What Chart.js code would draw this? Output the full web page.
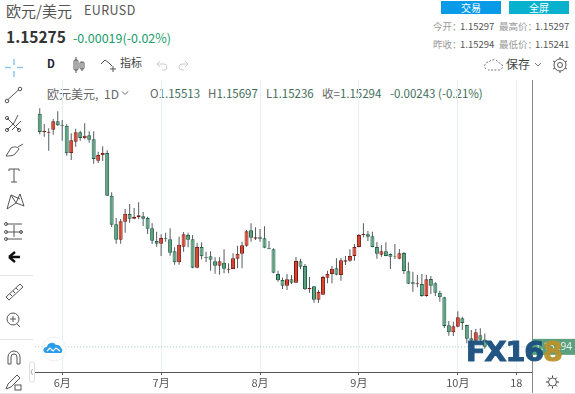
<!DOCTYPE html>
<html>
<head>
<meta charset="utf-8">
<script src="https://cdn.jsdelivr.net/npm/chart.js@4"></script>
<style>
body { margin: 0; background: #fff; width: 575px; height: 394px; overflow: hidden; position: relative;
       font-family: "Noto Sans CJK SC", "Noto Sans", sans-serif; color: #444; }
.t { position: absolute; white-space: nowrap; line-height: 1; }
.btn { position: absolute; top: 1px; width: 60px; height: 13px; color: #fff; font-size: 10px; line-height: 13px; text-align: center; }
#chartWrap { position: absolute; left: 33px; top: 80px; }
svg.ic { position: absolute; overflow: visible; }
.sep { position: absolute; left: 0; width: 33px; height: 1px; background: #e3e3e3; }
#logo { position: absolute; left: 466px; top: 339px; font: 900 26px "DejaVu Sans", sans-serif; letter-spacing: -1px;
        color: #1b4f7e; -webkit-text-stroke: 1px #1b4f7e; transform: scaleX(1.1); transform-origin: left top; line-height: 1; opacity: .96; }
#logo span { color: #b8922c; -webkit-text-stroke: 1px #b8922c; }
.k { color: #999; font-size: 9.5px; }
.v { color: #555; font-size: 9.5px; }
</style>
</head>
<body>
<div class="t" style="left:6px;top:3px;font-size:15px;color:#555">欧元/美元</div>
<div class="t" style="left:84px;top:4px;font-size:12.5px;color:#555;letter-spacing:.4px">EURUSD</div>
<div class="t" style="left:6px;top:29px;font-size:15.5px;font-weight:700;color:#333">1.15275</div>
<div class="t" style="left:73px;top:32px;font-size:12.5px;color:#1a9c6c">-0.00019(-0.02%)</div>

<div class="btn" style="left:441px;background:#0a9be8">交易</div>
<div class="btn" style="left:509px;background:#08b2cf">全屏</div>
<div class="t k" style="left:433px;top:22px">今开：</div>
<div class="t v" style="left:460px;top:22px">1.15297</div>
<div class="t k" style="left:499px;top:22px">最高价：</div>
<div class="t v" style="left:535px;top:22px">1.15297</div>
<div class="t k" style="left:433px;top:40px">昨收：</div>
<div class="t v" style="left:460px;top:40px">1.15294</div>
<div class="t k" style="left:499px;top:40px">最低价：</div>
<div class="t v" style="left:535px;top:40px">1.15241</div>

<div class="t" style="left:47px;top:58px;font-size:11px;font-weight:700;color:#223">D</div>
<div class="t" style="left:120px;top:57px;font-size:11px;color:#444">指标</div>
<div class="t" style="left:506px;top:58px;font-size:12px;color:#444">保存</div>

<div class="t" style="left:47px;top:88px;font-size:12px;color:#666">欧元美元,</div>
<div class="t" style="left:104px;top:88px;font-size:12px;color:#666">1D</div>
<div class="t" style="left:150px;top:88px;font-size:11.5px;color:#666">O<span style="color:#3f6e5a">1.15513</span></div>
<div class="t" style="left:208px;top:88px;font-size:11.5px;color:#666">H<span style="color:#3f6e5a">1.15697</span></div>
<div class="t" style="left:266px;top:88px;font-size:11.5px;color:#666">L<span style="color:#3f6e5a">1.15236</span></div>
<div class="t" style="left:322px;top:88px;font-size:11.5px;color:#666">收=<span style="color:#3f6e5a">1.15294</span></div>
<div class="t" style="left:390px;top:88px;font-size:11.5px;color:#3f6e5a">-0.00243 (-0.21%)</div>

<div id="chartWrap"><canvas id="kline" width="542" height="314"></canvas></div>

<!-- toolbar icons -->
<svg class="ic" style="left:0;top:0" width="575" height="394" fill="none" stroke="#555" stroke-width="1">
  <path d="M5 67.5h6M17 67.5h6M14 59v6M14 71v6" stroke="#8cc8f2" stroke-width="1.5"/>
  <path d="M7.5 100L19 89.5"/><circle cx="7" cy="101" r="1.8"/><circle cx="20" cy="89" r="1.8"/>
  <path d="M7 118l12 12M7 130l7-7 4-8M12 130l9-9"/><circle cx="7" cy="118" r="1.6"/><circle cx="7" cy="130" r="1.6"/><circle cx="19" cy="130" r="1.6"/>
  <path d="M6 156l5-8c3-2 7-1 8 1l-4 5c-2 2-6 2-9 2zM18 147l5-3"/>
  <path d="M9 169h10M14 169v13M11 182h6M9 169v2M19 169v2"/>
  <path d="M7 209l4-14 5 8 4-9 4 12M11 195l9 4M7 209l9-6 8 3"/>
  <path d="M6 224h16M6 232h16M6 239h16M14 225v12"/><circle cx="6" cy="224" r="1.5"/><circle cx="6" cy="232" r="1.5"/><circle cx="6" cy="239" r="1.5"/><circle cx="21" cy="232" r="1.5"/>
  <path d="M9 257l6-5M9 257l6 5M9 257h11" stroke="#111" stroke-width="2.4"/>
  <path d="M6 297l14-13 3 3-14 13zM10 294l2 2M13 291l2 2M16 288l2 2"/>
  <circle cx="13" cy="319" r="6"/><path d="M17 324l3 3M13 316v6M10 319h6"/>
  <path d="M8 364v-7a6 6 0 0 1 12 0v7h-3v-7a3 3 0 0 0-6 0v7z"/>
  <path d="M6 389l2-5 9-9 3 3-9 9z"/><rect x="15" y="385" width="6" height="5"/>
  <rect x="74" y="60" width="4" height="10" rx="1"/><path d="M76 57v16M82 62v9"/><rect x="80" y="62" width="4" height="7" rx="1"/>
  <path d="M101 64l4-4 4 3 3 3M113 66v6M110 69h6"/>
  <path d="M157 64h7a3 3 0 0 1 0 6h-2M157 64l3-3M157 64l3 3M188 64h-6a3 3 0 0 0 0 6h2M188 64l-3-3M188 64l-3 3" stroke="#ccc"/>
  <path d="M486 69a4 4 0 0 1 3-7 6 6 0 0 1 10 1 3.500 3.500 0 0 1 0 7h-11" stroke-dasharray="2 1.500" stroke="#777"/>
  <path d="M535 63l3 3 3-3" stroke="#777"/>
  <circle cx="560" cy="65" r="2.500"/><circle cx="560" cy="65" r="6"/><path d="M560 57v2M560 71v2M553 61l2 1M565 68l2 1M553 69l2-1M565 62l2-1"/>
  <path d="M122 91.500l3 3 3-3" stroke="#666"/>
  <circle cx="552.500" cy="382" r="4"/><path d="M552.500 375.500v2M552.500 386.500v2M546 382h2M557 382h2M548 377.500l1.500 1.500M555.500 385l1.500 1.500M548 386.500l1.500-1.500M555.500 379l1.500-1.500" stroke="#333"/>
  <rect x="29.500" y="362" width="5" height="20" rx="2" stroke="#ddd" fill="#fff"/><path d="M32.500 369l-1.500 3 1.500 3" stroke="#aaa"/>
  <path d="M532.500 372v22" stroke="#888"/>
  <path d="M0 393.500h575" stroke="#e6e6e6"/>
  <circle cx="54" cy="349" r="12" fill="#fff" stroke="#eceff2"/>
  <path d="M46 353a3 3 0 0 1 1-6 5 5 0 0 1 9-2 4 4 0 0 1 5 3 3 3 0 0 1 0 5z" fill="#2b9ce8" stroke="none"/>
  <path d="M47 351l3-3 3 3 3-3 4 3" stroke="#fff" stroke-width="1.200"/>
</svg>
<div class="sep" style="top:275px"></div>
<div class="sep" style="top:339px"></div>
<div id="logo">FX16<span>8</span></div>

<script>
const categories = Array.from({ length: 111 }, (_, i) => String(i));
const tickIndexes = [6, 28, 50, 72, 94, 107];
const tickLabels = ['6月', '7月', '8月', '9月', '10月', '18'];
const lastPrice = 1.15294;

const opens = [1.2229,1.2174,1.2172,1.2181,1.2206,1.2195,1.2193,1.2111,1.2145,1.2173,1.2155,1.2164,1.2152,1.2088,1.2104,1.2111,1.1983,1.1897,1.1851,1.1905,
  1.1928,1.1914,1.1918,1.1921,1.1916,1.1885,1.1847,1.1839,1.1855,1.1852,1.1816,1.1783,1.1830,1.1865,1.1852,1.1767,1.1829,1.1799,1.1801,1.1786,
  1.1773,1.1782,1.1761,1.1763,1.1794,1.1809,1.1833,1.1879,1.1854,1.1858,1.1855,1.1827,1.1822,1.1748,1.1730,1.1713,1.1732,1.1722,1.1786,1.1772,
  1.1702,1.1711,1.1671,1.1686,1.1737,1.1748,1.1765,1.1745,1.1785,1.1788,1.1802,1.1829,1.1865,1.1867,1.1861,1.1829,1.1806,1.1816,1.1808,1.1800,
  1.1794,1.1811,1.1756,1.1723,1.1718,1.1718,1.1682,1.1733,1.1720,1.1692,1.1678,1.1594,1.1573,1.1590,1.1615,1.1595,1.1555,1.1548,1.1564,1.15513];
const highs = [1.2245,1.2198,1.2185,1.2213,1.2236,1.2210,1.2197,1.2170,1.2184,1.2178,1.2200,1.2176,1.2176,1.2115,1.2131,1.2119,1.1993,1.1916,1.1913,1.1943,
  1.1958,1.1946,1.1963,1.1934,1.1920,1.1900,1.1875,1.1867,1.1872,1.1885,1.1828,1.1860,1.1874,1.1872,1.1865,1.1842,1.1843,1.1815,1.1816,1.1798,
  1.1798,1.1822,1.1780,1.1810,1.1833,1.1845,1.1880,1.1900,1.1888,1.1883,1.1891,1.1847,1.1825,1.1758,1.1737,1.1748,1.1745,1.1799,1.1794,1.1778,
  1.1739,1.1712,1.1700,1.1743,1.1758,1.1772,1.1795,1.1796,1.1802,1.1822,1.1838,1.1868,1.1900,1.1877,1.1875,1.1844,1.1835,1.1843,1.1810,1.1838,
  1.1823,1.1813,1.1783,1.1755,1.1745,1.1748,1.1746,1.1742,1.1723,1.1698,1.1680,1.1607,1.1605,1.1636,1.1620,1.1596,1.1580,1.1583,1.1585,1.15697];
const lows = [1.2167,1.2160,1.2118,1.2166,1.2192,1.2148,1.2103,1.2090,1.2130,1.2148,1.2152,1.2142,1.2079,1.2081,1.2087,1.1982,1.1889,1.1839,1.1839,1.1872,
  1.1902,1.1912,1.1912,1.1892,1.1868,1.1838,1.1830,1.1802,1.1845,1.1803,1.1776,1.1776,1.1815,1.1828,1.1765,1.1765,1.1792,1.1784,1.1758,1.1749,
  1.1746,1.1750,1.1750,1.1763,1.1765,1.1765,1.1830,1.1845,1.1850,1.1845,1.1825,1.1822,1.1750,1.1725,1.1703,1.1700,1.1718,1.1722,1.1762,1.1700,
  1.1692,1.1662,1.1662,1.1685,1.1720,1.1720,1.1744,1.1728,1.1775,1.1785,1.1788,1.1828,1.1858,1.1847,1.1828,1.1794,1.1800,1.1801,1.1763,1.1793,
  1.1792,1.1748,1.1718,1.1695,1.1708,1.1680,1.1680,1.1688,1.1682,1.1665,1.1586,1.1563,1.1562,1.1588,1.1580,1.1540,1.1535,1.1546,1.1545,1.15236];
const closes = [1.2174,1.2177,1.2175,1.2206,1.2194,1.2193,1.2110,1.2149,1.2173,1.2156,1.2163,1.2151,1.2093,1.2105,1.2111,1.1983,1.1896,1.1851,1.1906,1.1929,
  1.1914,1.1920,1.1924,1.1914,1.1884,1.1848,1.1839,1.1856,1.1853,1.1812,1.1783,1.1836,1.1867,1.1851,1.1767,1.1829,1.1801,1.1797,1.1791,1.1773,
  1.1786,1.1764,1.1764,1.1795,1.1809,1.1834,1.1876,1.1857,1.1858,1.1854,1.1827,1.1824,1.1752,1.1729,1.1713,1.1732,1.1722,1.1787,1.1770,1.1702,
  1.1706,1.1671,1.1694,1.1739,1.1748,1.1764,1.1746,1.1789,1.1789,1.1802,1.1829,1.1865,1.1868,1.1860,1.1829,1.1809,1.1816,1.1802,1.1800,1.1801,
  1.1810,1.1757,1.1719,1.1719,1.1720,1.1682,1.1732,1.1713,1.1692,1.1678,1.1592,1.1573,1.1591,1.1618,1.1601,1.1554,1.1548,1.1573,1.1551,1.15294];

const isUp = closes.map((c, i) => c > opens[i]);

new Chart(document.getElementById('kline'), {
    type: 'bar',
    data: {
        labels: categories,
        datasets: [
            {
                // wicks
                data: highs.map((h, i) => ({ x: categories[i + 1], y: [lows[i], h] })),
                backgroundColor: '#555b5f',
                borderWidth: 0,
                barThickness: 1,
                grouped: false,
                inflateAmount: 0,
                order: 2
            },
            {
                // bodies
                data: opens.map((o, i) => ({ x: categories[i + 1], y: [o, closes[i]] })),
                backgroundColor: isUp.map(u => u ? '#d8432f' : '#5ba07f'),
                borderColor: isUp.map(u => u ? '#7c1c12' : '#1f5f45'),
                borderWidth: 1,
                borderSkipped: false,
                barThickness: 4,
                grouped: false,
                inflateAmount: 0,
                order: 1
            },
            {
                // last price line
                type: 'line',
                data: categories.map(() => lastPrice),
                borderColor: '#9cc4ae',
                borderWidth: 1,
                borderDash: [1, 2],
                pointRadius: 0,
                order: 3
            }
        ]
    },
    options: {
        responsive: false,
        animation: false,
        events: [],
        layout: { padding: 0 },
        plugins: { legend: { display: false }, tooltip: { enabled: false } },
        scales: {
            x: {
                offset: true,
                afterBuildTicks: scale => { scale.ticks = tickIndexes.map(i => ({ value: i })); },
                afterFit: scale => { scale.height = 22; },
                grid: { offset: false, color: '#e6eff5', tickColor: '#555', tickLength: 3 },
                border: { color: '#555' },
                ticks: {
                    autoSkip: false,
                    maxRotation: 0,
                    padding: 1,
                    color: '#555',
                    font: { family: '"Noto Sans CJK SC"', size: 11 },
                    callback: value => tickLabels[tickIndexes.indexOf(value)]
                }
            },
            y: {
                position: 'right',
                min: 1.1454,
                max: 1.2330,
                afterBuildTicks: scale => { scale.ticks = [{ value: lastPrice }]; },
                afterFit: scale => { scale.width = 43; scale.paddingTop = 0; scale.paddingBottom = 0; },
                grid: { display: false, drawTicks: false },
                border: { color: '#888' },
                ticks: {
                    padding: 3,
                    color: '#e8f3ed',
                    showLabelBackdrop: true,
                    backdropColor: '#5ba07f',
                    backdropPadding: { x: 3, y: 2 },
                    font: { family: '"Noto Sans"', size: 10 },
                    callback: value => value.toFixed(5)
                }
            }
        }
    }
});
</script>
</body>
</html>
